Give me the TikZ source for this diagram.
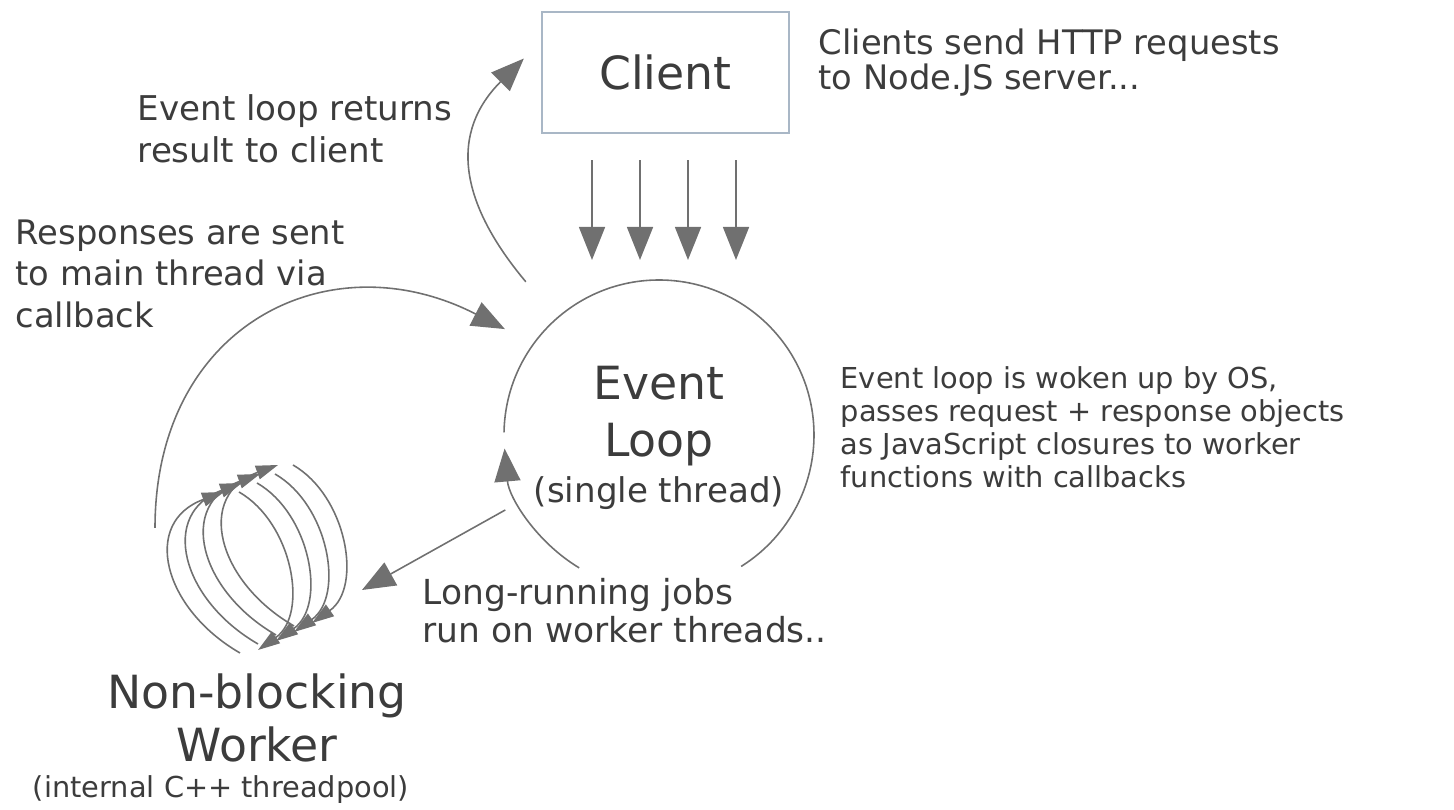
\documentclass[tikz,border=0pt]{standalone}
\usepackage{fontspec}
\setmainfont{DejaVu Sans}
\usetikzlibrary{arrows.meta,calc}
\definecolor{inkgray}{HTML}{3C3C3C}
\definecolor{linegray}{HTML}{707070}
\definecolor{boxedge}{HTML}{A9B7C6}
\tikzset{x=0.01cm, y=0.01cm,
  note/.style={anchor=west, align=left, inner sep=0pt, text=inkgray},
  big/.style={align=center, inner sep=0pt, text=inkgray},
  plain/.style={draw=linegray, line width=0.45pt},
  flow/.style={plain, -{Triangle[width=0.26cm,length=0.33cm]}},
  spin/.style={plain, -{Triangle[width=0.14cm,length=0.22cm]}}}

\begin{document}
\begin{tikzpicture}
    \useasboundingbox (0,0) rectangle (1454,-810);
    \coordinate (loopc) at (659,-435);
    \coordinate (pool) at (258,-559);

    \node (client) [big, draw=boxedge, line width=0.6pt, minimum width=2.47cm, minimum height=1.21cm,
      font=\fontsize{13}{15}\selectfont] at (665.5,-72.5) {Client};
    \node (evtext) [big, font=\fontsize{13}{16.2}\selectfont] at (659,-416) {Event\\Loop};
    \node (evsub) [big, font=\fontsize{9.7}{11}\selectfont] at (659,-493) {(single thread)};
    \node (worker) [big, font=\fontsize{13}{15}\selectfont] at (257,-718) {Non-blocking\\Worker};
    \node (workersub) [big, font=\fontsize{8.2}{10}\selectfont] at (221,-790) {(internal C++ threadpool)};

    \node (clinote) [note, font=\fontsize{9.6}{9.9}\selectfont] at (818,-62.5)
      {Clients send HTTP requests\\to Node.JS server...};
    \node (retnote) [note, font=\fontsize{9.7}{11.9}\selectfont] at (137,-129)
      {Event loop returns\\result to client};
    \node (cbnote) [note, font=\fontsize{9.6}{11.8}\selectfont] at (15,-273.5)
      {Responses are sent\\to main thread via\\callback};
    \node (wakenote) [note, font=\fontsize{8.2}{9.35}\selectfont] at (840,-427.5)
      {Event loop is woken up by OS,\\passes request + response objects\\as JavaScript closures to worker\\functions with callbacks};
    \node (jobsnote) [note, font=\fontsize{9.8}{10.8}\selectfont] at (422,-611)
      {Long-running jobs\\run on worker threads..};

    \path (client.south) ++(0,-26) coordinate (reqtop)
      (loopc) ++(0,175) coordinate (reqend);
    \foreach \x in {592,640,688,736}
      \draw [flow] (\x,0 |- reqtop) -- (\x,0 |- reqend);

    \draw [plain] (loopc) ++(179:155) arc[start angle=179, end angle=-58, radius=155];
    \draw [flow] (loopc) ++(239:155) arc[start angle=239, end angle=185, radius=155];

    \draw [flow] ($(loopc)+(131:203)$) to[out=130, in=225, looseness=1.2] ([xshift=-0.17cm, yshift=0.14cm]client.west);
    \draw [flow] ($(pool)+(-103,31)$) .. controls ($(pool)+(-103,235)$) and ($(pool)+(72,320)$) .. ($(loopc)+(145.5:187)$);
    \draw [flow] ($(loopc)+(206:171)$) -- ($(pool)+(104,-31)$);

    \foreach \i in {0,...,3} {
      \draw [spin] ($(pool)+(36-18*\i,-67-9*\i)$) to[out=150, in=200, looseness=1.4] ($(pool)+(20-18*\i,94-9*\i)$);
      \draw [spin] ($(pool)+(35-18*\i,94-9*\i)$) to[out=-30, in=35] ($(pool)+(54-18*\i,-64-9*\i)$);
    }
  \end{tikzpicture}
\end{document}
